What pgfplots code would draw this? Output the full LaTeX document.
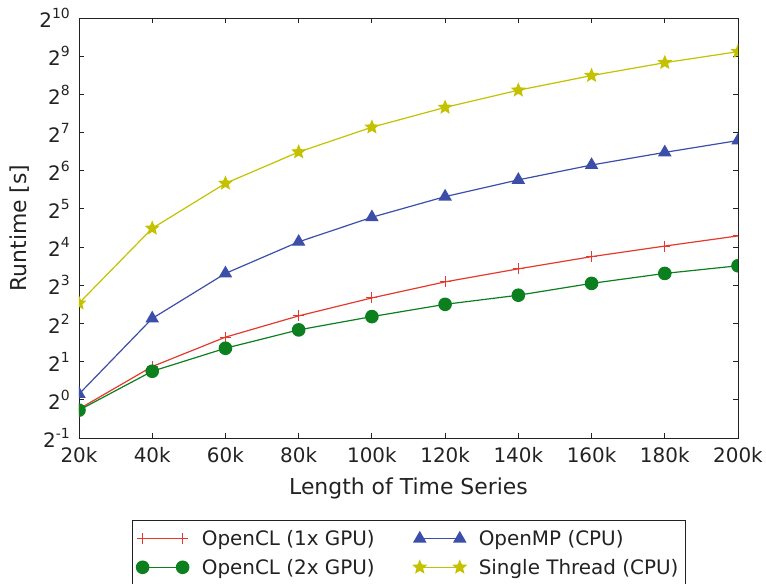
\documentclass[border=0pt]{standalone}
\usepackage{fontspec}
\setmainfont{DejaVu Sans}
\usepackage{pgfplots}
\pgfplotsset{compat=1.18}
\definecolor{cred}{RGB}{230,57,45}
\definecolor{cgreen}{RGB}{12,127,30}
\definecolor{cblue}{RGB}{59,78,168}
\definecolor{cyel}{RGB}{196,194,0}
\definecolor{caxis}{RGB}{34,34,34}
\newcommand\pw[1]{\raisebox{0.45em}{\fontsize{14}{14}\selectfont #1}}
\pgfdeclareplotmark{fstar}{%
  \pgfpathmoveto{\pgfpointpolar{90}{\pgfplotmarksize}}%
  \pgfpathlineto{\pgfpointpolar{126}{0.45\pgfplotmarksize}}%
  \pgfpathlineto{\pgfpointpolar{162}{\pgfplotmarksize}}%
  \pgfpathlineto{\pgfpointpolar{198}{0.45\pgfplotmarksize}}%
  \pgfpathlineto{\pgfpointpolar{234}{\pgfplotmarksize}}%
  \pgfpathlineto{\pgfpointpolar{270}{0.45\pgfplotmarksize}}%
  \pgfpathlineto{\pgfpointpolar{306}{\pgfplotmarksize}}%
  \pgfpathlineto{\pgfpointpolar{342}{0.45\pgfplotmarksize}}%
  \pgfpathlineto{\pgfpointpolar{18}{\pgfplotmarksize}}%
  \pgfpathlineto{\pgfpointpolar{54}{0.45\pgfplotmarksize}}%
  \pgfpathclose
  \pgfusepathqfillstroke}
\begin{document}
\begin{tikzpicture}
\begin{axis}[
  at={(0,0)}, anchor=south west,
  scale only axis, width=659bp, height=420bp,
  xmin=20000, xmax=200000,
  ymode=log, log basis y=2, ymin=0.5, ymax=1024,
  xtick={20000,40000,60000,80000,100000,120000,140000,160000,180000,200000},
  xticklabels={20k,40k,60k,80k,100k,120k,140k,160k,180k,200k},
  ytick={0.5,1,2,4,8,16,32,64,128,256,512,1024},
  yticklabels={2\pw{-1},2\pw{0},2\pw{1},2\pw{2},2\pw{3},2\pw{4},2\pw{5},2\pw{6},2\pw{7},2\pw{8},2\pw{9},2\pw{10}},
  minor ytick={}, minor xtick={},
  scaled x ticks=false,
  clip marker paths=true,
  tick align=inside, major tick length=5bp,
  axis line style={caxis, line width=0.9bp},
  every tick/.style={caxis, line width=0.9bp},
  tick label style={font=\fontsize{20}{24}\selectfont, text=caxis},
  xticklabel style={anchor=north, inner sep=0pt, yshift=-9bp},
  yticklabel style={anchor=east, inner sep=0pt, xshift=-9bp},
  xlabel={Length of Time Series},
  ylabel={Runtime [s]},
  every axis x label/.style={at={(rel axis cs:0.5,-0.1357)}, anchor=base, inner sep=0pt, font=\fontsize{22}{26}\selectfont, text=caxis},
  every axis y label/.style={at={(rel axis cs:-0.0794,0.5)}, rotate=90, anchor=base, inner sep=0pt, font=\fontsize{22}{26}\selectfont, text=caxis},
  legend columns=2, transpose legend,
  legend cell align=left,
  legend image code/.code={\draw[#1] plot coordinates {(0bp,0bp) (40bp,0bp)};},
  legend style={at={(rel axis cs:0.0804,-0.195)}, anchor=north west,
    draw=caxis, line width=0.9bp, font=\fontsize{20}{24}\selectfont, text=caxis,
    inner xsep=4bp, inner ysep=7bp, row sep=6bp,
    nodes={inner sep=3bp},
    /tikz/every odd column/.append style={column sep=10bp},
    /tikz/every even column/.append style={column sep=36bp}},
]
\addplot[cred, line width=1.2bp, mark=+, mark size=5.5bp, mark options={line width=1bp}] coordinates {
(20000,0.847) (40000,1.83) (60000,3.12) (80000,4.59) (100000,6.36) (120000,8.51) (140000,10.78) (160000,13.45) (180000,16.3) (200000,19.6)};
\addlegendentry{OpenCL (1x GPU)}
\addplot[cgreen, line width=1.2bp, mark=*, mark size=6.2bp, mark options={fill=cgreen}] coordinates {
(20000,0.829) (40000,1.68) (60000,2.55) (80000,3.56) (100000,4.53) (120000,5.66) (140000,6.68) (160000,8.28) (180000,9.92) (200000,11.4)};
\addlegendentry{OpenCL (2x GPU)}
\addplot[cblue, line width=1.2bp, mark=triangle*, mark size=6.6bp, mark options={fill=cblue}] coordinates {
(20000,1.11) (40000,4.38) (60000,9.92) (80000,17.6) (100000,27.5) (120000,40.0) (140000,54.2) (160000,71.0) (180000,89.3) (200000,110.7)};
\addlegendentry{OpenMP (CPU)}
\addplot[cyel, line width=1.2bp, mark=fstar, mark size=6.3bp, mark options={fill=cyel}] coordinates {
(20000,5.78) (40000,22.5) (60000,50.9) (80000,89.9) (100000,141) (120000,202) (140000,276) (160000,360) (180000,455) (200000,556)};
\addlegendentry{Single Thread (CPU)}
\end{axis}
\pgfresetboundingbox
\path[use as bounding box] (-79bp,-146bp) rectangle (687bp,438bp);
\end{tikzpicture}
\end{document}
